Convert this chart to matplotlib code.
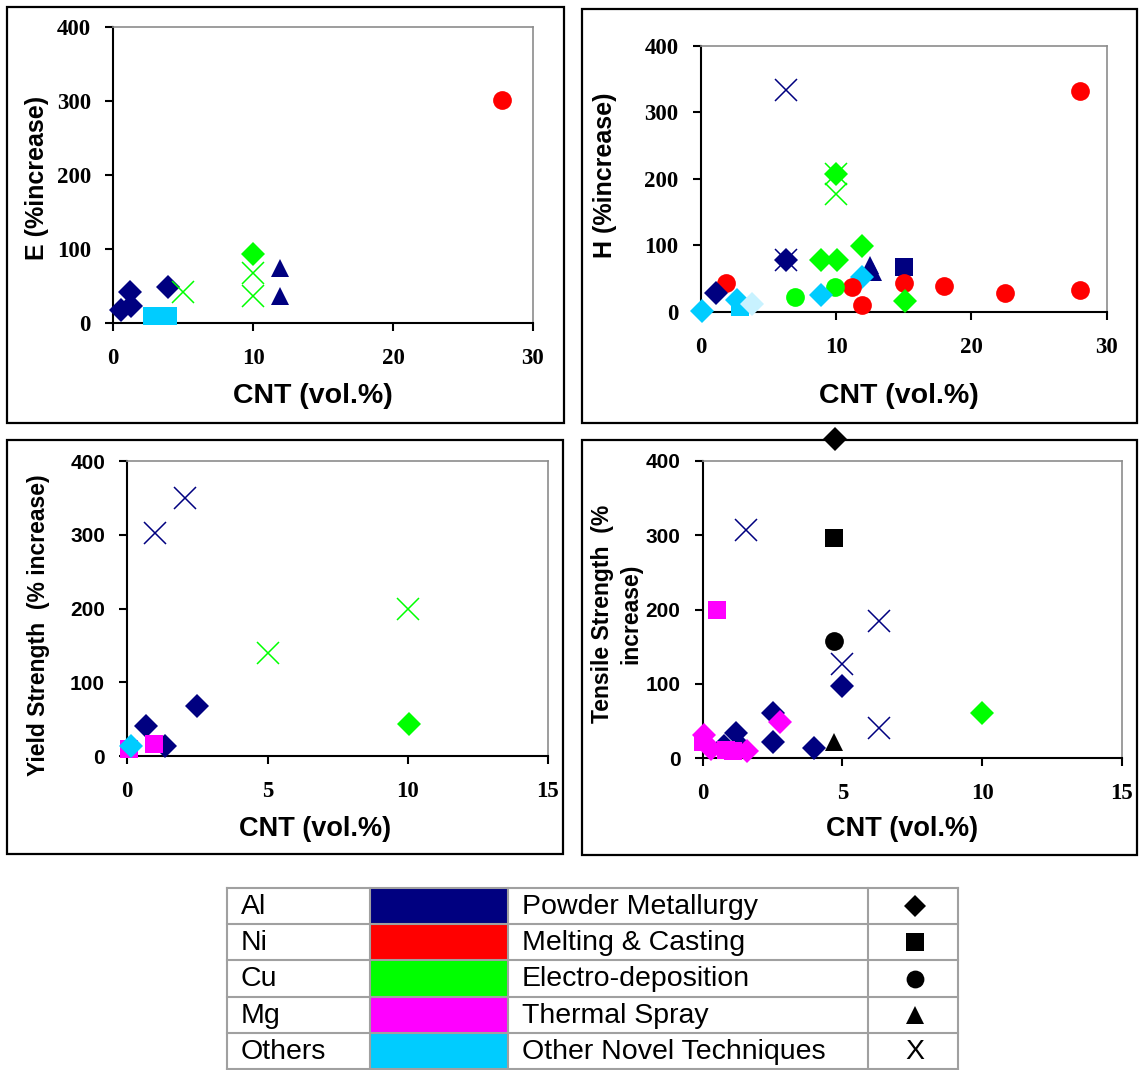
import numpy as np
import matplotlib.pyplot as plt
from matplotlib.patches import Rectangle

W, H = 1139, 1070

# legend categories: colour = matrix material, marker = processing route
materials = ['Al', 'Ni', 'Cu', 'Mg', 'Others']
mat_colors = ['#000080', '#FF0000', '#00FF00', '#FF00FF', '#00CCFF']
processes = ['Powder Metallurgy', 'Melting & Casting', 'Electro-deposition',
             'Thermal Spray', 'Other Novel Techniques']
proc_codes = ['PM', 'MC', 'ED', 'TS', 'ON']

# E (% increase)
e_cnt = [0.6, 1.3, 1.2, 3.9, 2.8, 3.4, 3.9, 5.0, 10.0, 10.0, 10.0, 11.9, 11.9, 27.8]
e_inc = [18, 23, 42, 48, 10, 10, 10, 42, 68, 36, 93, 75, 37, 301]
e_mat = ['Al', 'Al', 'Al', 'Al', 'Others', 'Others', 'Others', 'Cu', 'Cu', 'Cu',
         'Cu', 'Al', 'Al', 'Ni']
e_proc = ['PM', 'PM', 'PM', 'PM', 'MC', 'MC', 'MC', 'ON', 'ON', 'ON', 'PM', 'TS',
          'TS', 'ED']

# H (% increase)
h_cnt = [6.3, 28.0, 10.0, 10.0, 10.0, 11.9, 6.3, 6.3, 8.9, 10.05, 12.5, 12.7, 15.0,
         11.9, 1.9, 11.2, 11.9, 15.0, 18.0, 22.5, 28.0, 7.0, 9.9, 15.1, 1.1, 8.9,
         2.7, 2.9, 3.8, 0.1]
h_inc = [334, 332, 208, 177, 207, 99, 78, 78, 78, 78, 70, 60, 67, 52, 43, 38, 10,
         44, 39, 29, 33, 22, 37, 17, 29, 26, 18, 8, 12, 2]
h_mat = ['Al', 'Ni', 'Cu', 'Cu', 'Cu', 'Cu', 'Al', 'Al', 'Cu', 'Cu', 'Al', 'Al', 'Al',
         'Others', 'Ni', 'Ni', 'Ni', 'Ni', 'Ni', 'Ni', 'Ni', 'Cu', 'Cu', 'Cu', 'Al',
         'Others', 'Others', 'Others', 'Others*', 'Others']
h_proc = ['ON', 'ED', 'ON', 'ON', 'PM', 'PM', 'ON', 'PM', 'PM', 'PM', 'TS', 'TS', 'MC',
          'PM', 'ED', 'ED', 'ED', 'ED', 'ED', 'ED', 'ED', 'ED', 'ED', 'PM', 'PM', 'PM',
          'PM', 'MC', 'PM', 'PM']

# Yield strength (% increase)
ys_cnt = [1.0, 2.05, 5.0, 10.0, 2.5, 0.65, 1.35, 0.95, 0.05, 0.12, 10.05]
ys_inc = [302, 350, 140, 200, 68, 41, 13, 16, 10, 13, 43]
ys_mat = ['Al', 'Al', 'Cu', 'Cu', 'Al', 'Al', 'Al', 'Mg', 'Mg', 'Others', 'Cu']
ys_proc = ['ON', 'ON', 'ON', 'ON', 'PM', 'PM', 'PM', 'MC', 'MC', 'PM', 'PM']

# Tensile strength (% increase)
ts_cnt = [4.75, 1.55, 6.3, 5.0, 6.3, 4.7, 0.5, 4.7, 5.0, 2.5, 2.5, 4.0, 1.2, 0.75,
          1.35, 10.0, 2.75, 4.7, 0.05, 0.3, 1.6, 0.0, 0.85, 1.1]
ts_inc = [430, 307, 184, 127, 40, 296, 199, 157, 97, 61, 21, 13, 33, 16, 16, 60, 48,
          21, 31, 12, 9, 22, 11, 10]
ts_mat = ['Misc', 'Al', 'Al', 'Al', 'Al', 'Misc', 'Mg', 'Misc', 'Al', 'Al', 'Al', 'Al',
          'Al', 'Al', 'Al', 'Cu', 'Mg', 'Misc', 'Mg', 'Mg', 'Mg', 'Mg', 'Mg', 'Mg']
ts_proc = ['PM', 'ON', 'ON', 'ON', 'ON', 'MC', 'MC', 'ED', 'PM', 'PM', 'PM', 'PM', 'PM',
           'PM', 'PM', 'PM', 'PM', 'TS', 'PM', 'PM', 'PM', 'MC', 'MC', 'MC']

color_of = dict(zip(materials, mat_colors))
color_of['Others*'] = '#C8F2FF'
color_of['Misc'] = '#000000'
marker_of = {'PM': 'D', 'MC': 's', 'ED': 'o', 'TS': '^', 'ON': 'x'}
size_of = {'PM': 12, 'MC': 13, 'ED': 13.5, 'TS': 13.5, 'ON': 16.5}

SANS = 'Liberation Sans'
SERIF = 'Liberation Serif'


def px_rect(x0, y0, x1, y1):
    return [x0 / W, 1 - y1 / H, (x1 - x0) / W, (y1 - y0) / H]


def scatter_panel(ax, cnt, inc, mat, proc):
    for x, y, m, p in zip(cnt, inc, mat, proc):
        c = color_of[m]
        if p == 'ON':
            ax.plot(x, y, ls='none', marker='x', ms=size_of[p], mew=1.1,
                    color=c, clip_on=False, zorder=3)
        else:
            ax.plot(x, y, ls='none', marker=marker_of[p], ms=size_of[p], mew=0,
                    color=c, clip_on=False, zorder=3)


def style_axes(ax, xmax, xstep, ylab_font):
    ax.set_xlim(0, xmax)
    ax.set_ylim(0, 400)
    ax.set_xticks(np.arange(0, xmax + 1, xstep))
    ax.set_yticks(np.arange(0, 401, 100))
    for s in ['left', 'bottom']:
        ax.spines[s].set_linewidth(1.5)
        ax.spines[s].set_color('black')
    for s in ['top', 'right']:
        ax.spines[s].set_linewidth(1.2)
        ax.spines[s].set_color('#8c8c8c')
    ax.tick_params(direction='out', length=6, width=1.5, top=False, right=False)
    ax.tick_params(axis='y', pad=10)
    ax.tick_params(axis='x', pad=12)
    for t in ax.get_xticklabels():
        t.set_fontfamily(SERIF)
        t.set_fontweight('bold')
        t.set_fontsize(16.5)
    for t in ax.get_yticklabels():
        t.set_fontfamily(ylab_font)
        t.set_fontweight('bold')
        t.set_fontsize(16.5 if ylab_font == SERIF else 15)


fig = plt.figure(figsize=(W / 100, H / 100), dpi=100)

# outer frames round each chart
for box in [(7, 7, 564, 423), (582, 9, 1137, 423), (7, 440, 563, 854), (582, 440, 1137, 855)]:
    fig.add_artist(Rectangle((box[0] / W, 1 - box[3] / H), (box[2] - box[0]) / W,
                             (box[3] - box[1]) / H, transform=fig.transFigure,
                             fill=False, lw=1.6, ec='black'))

ax1 = fig.add_axes(px_rect(113, 27, 533, 323))
scatter_panel(ax1, e_cnt, e_inc, e_mat, e_proc)
style_axes(ax1, 30, 10, SERIF)
ax1.set_ylabel('E (%increase)', fontfamily=SANS, fontweight='bold', fontsize=18)
ax1.yaxis.set_label_coords(-0.181, 0.49)
ax1.set_xlabel('CNT (vol.%)', fontfamily=SANS, fontweight='bold', fontsize=20.5)
ax1.xaxis.set_label_coords(0.476, -0.247)

ax2 = fig.add_axes(px_rect(700.7, 46, 1106.7, 312))
scatter_panel(ax2, h_cnt, h_inc, h_mat, h_proc)
style_axes(ax2, 30, 10, SERIF)
ax2.set_ylabel('H (%increase)', fontfamily=SANS, fontweight='bold', fontsize=18)
ax2.yaxis.set_label_coords(-0.236, 0.515)
ax2.set_xlabel('CNT (vol.%)', fontfamily=SANS, fontweight='bold', fontsize=20.5)
ax2.xaxis.set_label_coords(0.488, -0.316)

ax3 = fig.add_axes(px_rect(127.3, 461, 548, 756))
scatter_panel(ax3, ys_cnt, ys_inc, ys_mat, ys_proc)
style_axes(ax3, 15, 5, SANS)
ax3.set_ylabel('Yield Strength  (% increase)', fontfamily=SANS, fontweight='bold',
               fontsize=16.5)
ax3.yaxis.set_label_coords(-0.212, 0.444)
ax3.set_xlabel('CNT (vol.%)', fontfamily=SANS, fontweight='bold', fontsize=19.5)
ax3.xaxis.set_label_coords(0.446, -0.247)

ax4 = fig.add_axes(px_rect(702.7, 461, 1121.7, 758))
scatter_panel(ax4, ts_cnt, ts_inc, ts_mat, ts_proc)
style_axes(ax4, 15, 5, SANS)
ax4.set_ylabel('Tensile Strength  (%\nincrease)', fontfamily=SANS, fontweight='bold',
               fontsize=16.5, multialignment='center', linespacing=1.3)
ax4.yaxis.set_label_coords(-0.205, 0.485)
ax4.set_xlabel('CNT (vol.%)', fontfamily=SANS, fontweight='bold', fontsize=19.5)
ax4.xaxis.set_label_coords(0.476, -0.239)

for ax in [ax1, ax2, ax3, ax4]:
    ax.xaxis.label.set_va('center')
    ax.yaxis.label.set_va('center')

# legend table
axl = fig.add_axes(px_rect(227, 888, 958, 1069))
axl.set_xlim(0, 731)
axl.set_ylim(181, 0)
axl.axis('off')
row_edges = [0, 36, 72, 109, 145, 181]
col_edges = [0, 143, 281, 641, 731]
for r in range(5):
    y0, y1 = row_edges[r], row_edges[r + 1]
    yc = (y0 + y1) / 2
    axl.add_patch(Rectangle((col_edges[1] + 1, y0 + 1), col_edges[2] - col_edges[1] - 2,
                            y1 - y0 - 2, color=mat_colors[r], lw=0))
    axl.text(14, yc + 1, materials[r], fontfamily=SANS, fontsize=20.5, va='center', ha='left')
    axl.text(col_edges[2] + 14, yc + 1, processes[r], fontfamily=SANS, fontsize=20.5,
             va='center', ha='left')
    xc = (col_edges[3] + col_edges[4]) / 2 + 2
    p = proc_codes[r]
    if p == 'ON':
        axl.text(xc, yc + 1, 'X', fontfamily=SANS, fontsize=20.5, va='center', ha='center')
    else:
        axl.plot(xc, yc, ls='none', marker=marker_of[p], ms=size_of[p] * 0.95, mew=0,
                 color='black')
for y in row_edges:
    axl.plot([0, 731], [y, y], color='#a0a0a0', lw=1.5, clip_on=False)
for x in col_edges:
    axl.plot([x, x], [0, 181], color='#a0a0a0', lw=1.5, clip_on=False)

fig.savefig('out.png', dpi=100)
